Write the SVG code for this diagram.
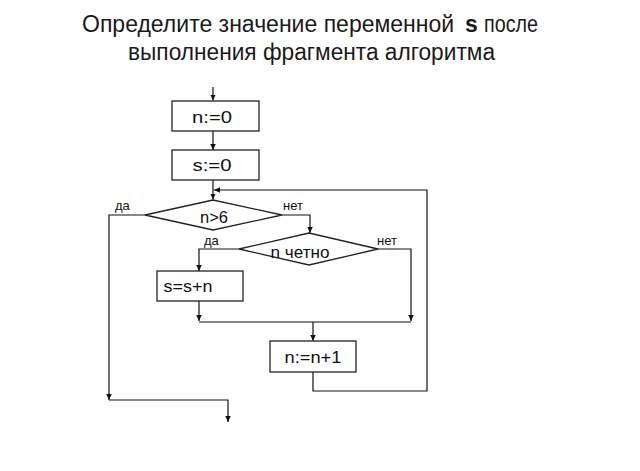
<svg xmlns="http://www.w3.org/2000/svg" width="640" height="471" viewBox="0 0 640 471">
<defs>
<marker id="ah" markerWidth="6" markerHeight="8" refX="6" refY="2.75" orient="auto" markerUnits="userSpaceOnUse">
<path d="M0,0 L6,2.75 L0,5.5 z" fill="#111"/>
</marker>
<style>
.title{font-family:"Liberation Sans",Arial,sans-serif;font-size:23px;fill:#1a1a1a}
.box{fill:#fff;stroke:#222;stroke-width:1.3}
.lbl{font-family:"Liberation Sans",Arial,sans-serif;font-size:17px;fill:#111;text-anchor:middle}
.sm{font-family:"Liberation Sans",Arial,sans-serif;font-size:13px;fill:#111}
.ln{fill:none;stroke:#111;stroke-width:1.2}
.ar{marker-end:url(#ah)}
</style>
</defs>
<rect width="640" height="471" fill="#fff"/>
<text class="title" x="82" y="32">Определите значение переменной</text>
<text class="title" x="465" y="32" font-weight="bold">s</text>
<text class="title" x="484" y="32" textLength="54" lengthAdjust="spacingAndGlyphs">после</text>
<text class="title" x="128" y="60" textLength="367" lengthAdjust="spacingAndGlyphs">выполнения  фрагмента алгоритма</text>

<g id="connectors">
<path class="ln ar" d="M213,87 V100.5"/>
<path class="ln ar" d="M213,131 V150"/>
<path class="ln ar" d="M213,180 V199.5"/>
<path class="ln ar" d="M313,372 V391 H427 V190 H214"/>
<path class="ln ar" d="M145,215 H109 V400"/>
<path class="ln ar" d="M109,400 H228 V422"/>
<path class="ln ar" d="M282,215 H310 V233"/>
<path class="ln ar" d="M239,249 H199 V271"/>
<path class="ln ar" d="M199,301 V321"/>
<path class="ln ar" d="M378,249 H411 V321"/>
<path class="ln" d="M199,322 H411"/>
<path class="ln ar" d="M313,322 V341"/>
<text class="sm" x="115" y="210">да</text>
<text class="sm" x="283" y="210">нет</text>
<text class="sm" x="204" y="245">да</text>
<text class="sm" x="377" y="245">нет</text>
</g>

<g id="n0">
<rect class="box" x="172" y="101" width="87" height="30"/>
<text class="lbl" x="212" y="123" textLength="40" lengthAdjust="spacingAndGlyphs">n:=0</text>
</g>
<g id="s0">
<rect class="box" x="172" y="150" width="87" height="30"/>
<text class="lbl" x="212" y="171" textLength="39" lengthAdjust="spacingAndGlyphs">s:=0</text>
</g>
<g id="cond1">
<polygon class="box" points="145,215 213,200 282,215 213,230"/>
<text class="lbl" x="214" y="223" textLength="28" lengthAdjust="spacingAndGlyphs">n&gt;6</text>
</g>
<g id="cond2">
<polygon class="box" points="239,249 309,233 378,249 309,265"/>
<text class="lbl" x="300" y="258" textLength="59" lengthAdjust="spacingAndGlyphs">n четно</text>
</g>
<g id="ssn">
<rect class="box" x="157" y="271" width="86" height="30"/>
<text class="lbl" x="188" y="292" textLength="49" lengthAdjust="spacingAndGlyphs">s=s+n</text>
</g>
<g id="nn1">
<rect class="box" x="270" y="341" width="86" height="31"/>
<text class="lbl" x="313" y="363" textLength="57" lengthAdjust="spacingAndGlyphs">n:=n+1</text>
</g>
</svg>
